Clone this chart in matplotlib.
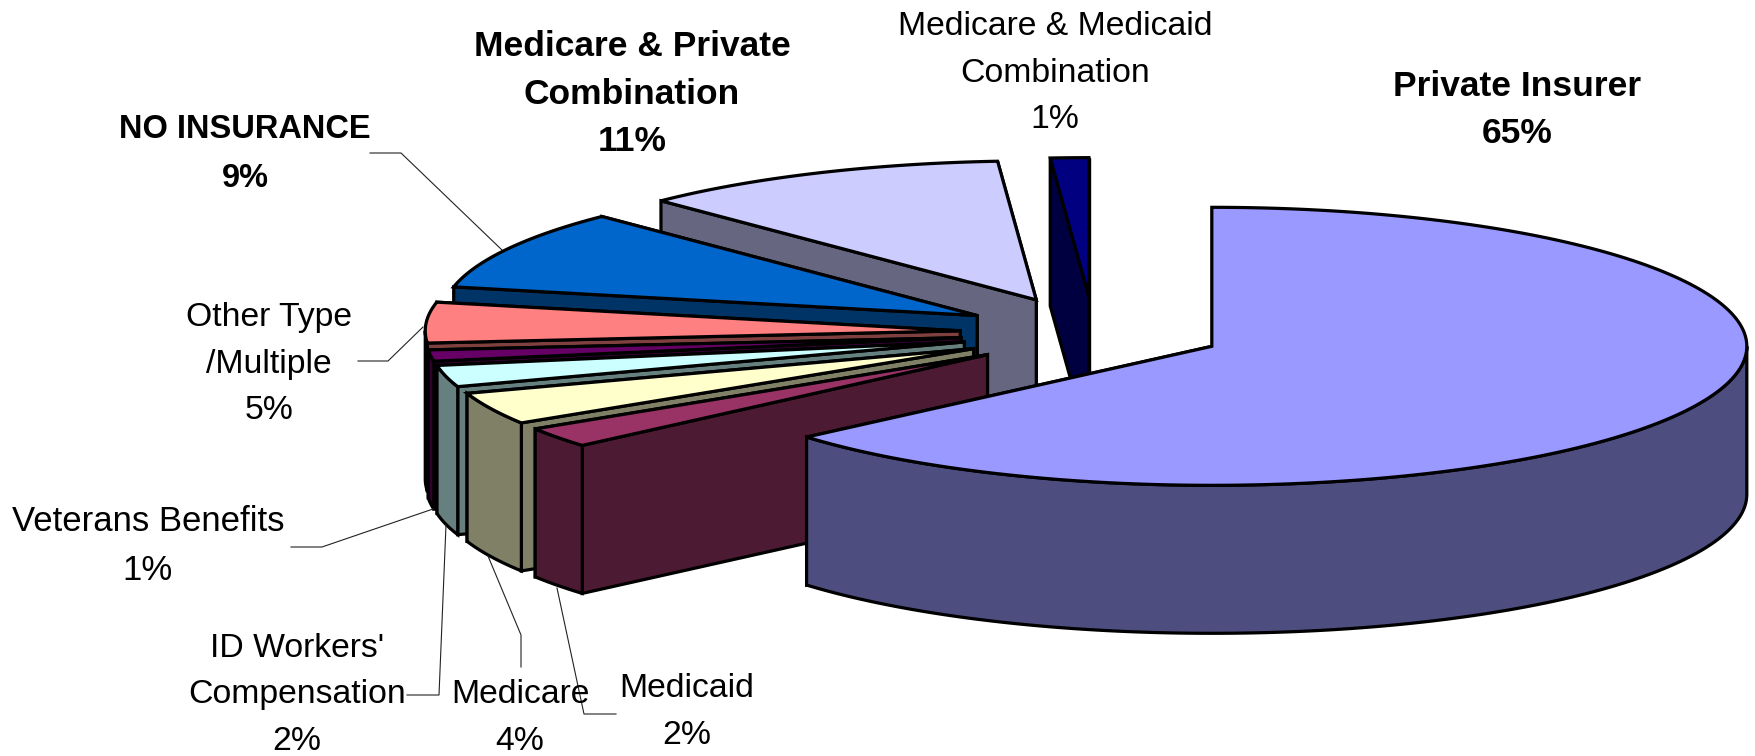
import numpy as np
import matplotlib
matplotlib.use('Agg')
import matplotlib.pyplot as plt

plt.rcParams['font.family'] = ['Liberation Sans', 'DejaVu Sans']

names = ['Private Insurer', 'Medicaid', 'Medicare', "ID Workers'\nCompensation", 'Veterans Benefits',
         'Other Type\n/Multiple', 'NO INSURANCE', 'Medicare & Private\nCombination',
         'Medicare & Medicaid\nCombination']
shares = [63.55, 2.35, 3.75, 2.5, 1.3, 4.7, 9.3, 11.2, 1.15]
pct_labels = ['65%', '2%', '4%', '2%', '1%', '5%', '9%', '11%', '1%']
bold = [True, False, False, False, False, False, True, True, False]

# Styles
top_colors = ['#9999FF', '#993366', '#FFFFCC', '#CCFFFF', '#660066', '#FF8080', '#0066CC', '#CCCCFF', '#000080']
side_colors = ['#4D4D80', '#4D1A33', '#808066', '#668080', '#330033', '#804040', '#003366', '#666680', '#000040']
explode = [123, 140, 140, 140, 140, 140, 140, 140, 140]
shift_x = [0, 0, 0, 0, 0, 0, 0, -6, -6]
font_sizes = [25.5, 24.3, 24.3, 24.3, 25, 24.3, 23.5, 25.5, 24.3]

# Pie geometry in image pixels
cx, cy = 1100, 333
rx, ry = 535, 139
depth = 148
edge = dict(edgecolor='black', linewidth=2.3, joinstyle='miter')

label_pos = [(1517, 110), (687, 712), (520, 718), (297, 695), (148, 546),
             (269, 364), (245, 154), (632, 94), (1055, 73)]
leaders = [None,
           [(557, 588), (584, 714), (616, 714)],
           [(488, 556), (521, 635), (521, 667)],
           [(407, 695), (439, 695), (446, 525)],
           [(291, 547), (322, 547), (433, 509)],
           [(358, 361), (388, 361), (423, 327)],
           [(370, 153), (401, 153), (502, 250)],
           None, None]


def rim(ax0, ay0, a):
    t = np.radians(a)
    return ax0 + rx * np.sin(t), ay0 - ry * np.cos(t)


fig = plt.figure(figsize=(17.55, 7.56), dpi=100)
ax = fig.add_axes([0, 0, 1, 1])
ax.set_xlim(0, 1755)
ax.set_ylim(756, 0)
ax.axis('off')

edges = np.concatenate([[0], np.cumsum(shares)]) / np.sum(shares) * 360

# back slices first, the big one goes on top
for i in reversed(range(len(shares))):
    a0, a1 = edges[i], edges[i + 1]
    mid = np.radians((a0 + a1) / 2)
    px = cx + explode[i] * np.sin(mid) + shift_x[i]
    py = cy - explode[i] * ry / rx * np.cos(mid)

    # cut faces
    for a in (a1, a0):
        x, y = rim(px, py, a)
        ax.fill([px, x, x, px], [py, y, y + depth, py + depth], facecolor=side_colors[i], **edge)

    # outer wall, only the front half shows
    w0, w1 = max(a0, 90), min(a1, 270)
    if w1 > w0:
        x, y = rim(px, py, np.linspace(w0, w1, 120))
        ax.fill(np.r_[x, x[::-1]], np.r_[y, y[::-1] + depth], facecolor=side_colors[i], **edge)

    # top
    x, y = rim(px, py, np.linspace(a0, a1, 200))
    ax.fill(np.r_[px, x], np.r_[py, y], facecolor=top_colors[i], **edge)

for i in range(len(names)):
    if leaders[i] is not None:
        pts = np.array(leaders[i])
        ax.plot(pts[:, 0], pts[:, 1], color='#222222', lw=0.8)
    ax.text(label_pos[i][0], label_pos[i][1], names[i] + '\n' + pct_labels[i], ha='center', va='center',
            fontsize=font_sizes[i], linespacing=47 / (1.17 * font_sizes[i]),
            fontweight='bold' if bold[i] else 'normal', color='black')

fig.savefig('out.png', dpi=100)
